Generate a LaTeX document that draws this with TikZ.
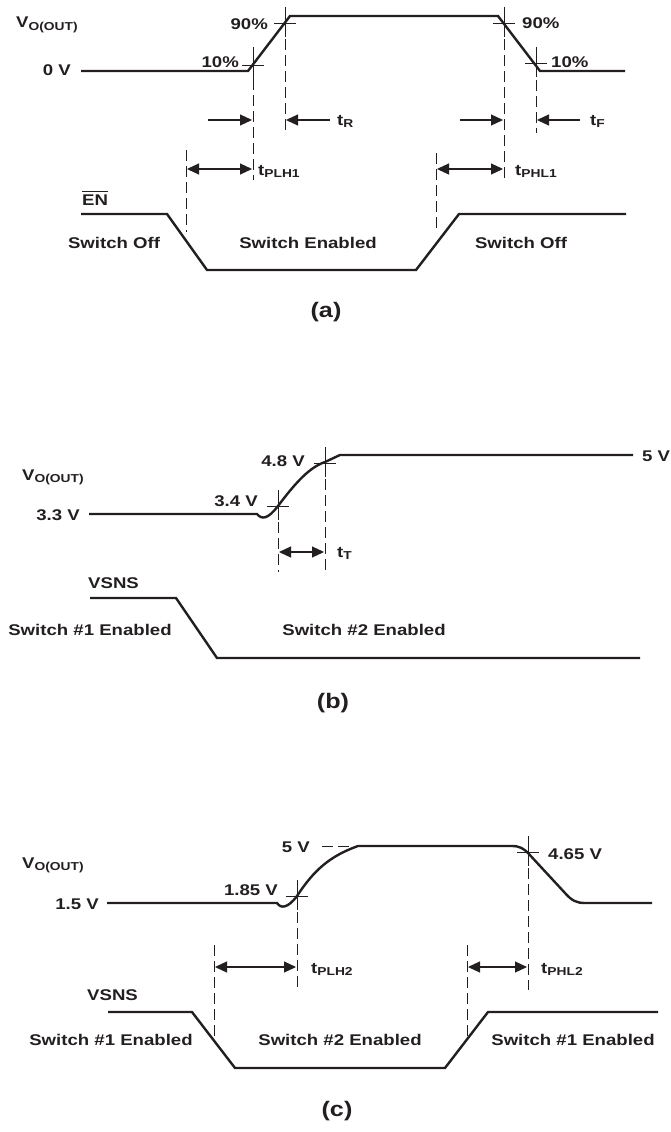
\documentclass[tikz,border=0pt]{standalone}
\usepackage{fontspec}
\setmainfont{Liberation Sans}[FakeStretch=1.2]
\usetikzlibrary{arrows.meta}
\definecolor{ink}{RGB}{35,31,32}
\newcommand\lsub[1]{\raisebox{-0.35ex}{\fontsize{11.5}{13}\selectfont #1}}
\begin{document}
\begin{tikzpicture}[x=1pt,y=-1pt,color=ink,
  sig/.style={line width=2.4pt,line join=miter},
  guide/.style={line width=1pt,dash pattern=on 11pt off 5pt},
  tick/.style={line width=0.9pt},
  dimarrow/.style={line width=1.2pt,-{Triangle[length=12pt,width=11pt]}},
  ddimarrow/.style={line width=1.2pt,{Triangle[length=12pt,width=11pt]}-{Triangle[length=12pt,width=11pt]}},
  lbl/.style={inner sep=0pt,font=\fontsize{15.5}{18}\selectfont\bfseries},
  figcap/.style={inner sep=0pt,font=\fontsize{21}{24}\selectfont\bfseries},
  crosshair/.pic={\draw[tick] (-11,0) -- (11,0); \draw[tick] (0,-16) -- (0,14);}]
\useasboundingbox (0,0) rectangle (670,1132);

% ================= (a) =================
\coordinate (a0) at (81,71);  \coordinate (a1) at (248,71);
\coordinate (a2) at (290,16); \coordinate (a3) at (498,16);
\coordinate (a4) at (540,71); \coordinate (a5) at (625,71);
\draw[sig] (a0) -- (a1) -- (a2) -- (a3) -- (a4) -- (a5);

\pic at (253,65) {crosshair};
\pic at (285,23) {crosshair};
\pic at (504,23) {crosshair};
\pic at (536,63) {crosshair};

\coordinate (ga1t) at (186,150); \coordinate (ga1b) at (186,232);
\coordinate (ga2t) at (253,47);  \coordinate (ga2b) at (253,180);
\coordinate (ga3t) at (285,7);   \coordinate (ga3b) at (285,130);
\coordinate (ga4t) at (436,153); \coordinate (ga4b) at (436,232);
\coordinate (ga5t) at (504,7);   \coordinate (ga5b) at (504,180);
\coordinate (ga6t) at (536,48);  \coordinate (ga6b) at (536,133);
\foreach \g in {ga1,ga2,ga3,ga4,ga5,ga6} \draw[guide] (\g t) -- (\g b);

\coordinate (trA) at (208,120); \coordinate (trB) at (252,120);
\coordinate (trC) at (330,120); \coordinate (trD) at (286,120);
\coordinate (tfA) at (460,120); \coordinate (tfB) at (503,120);
\coordinate (tfC) at (580,120); \coordinate (tfD) at (537,120);
\draw[dimarrow] (trA) -- (trB);
\draw[dimarrow] (trC) -- (trD);
\draw[dimarrow] (tfA) -- (tfB);
\draw[dimarrow] (tfC) -- (tfD);
\coordinate (p1A) at (187,169); \coordinate (p1B) at (252,169);
\coordinate (h1A) at (437,169); \coordinate (h1B) at (503,169);
\draw[ddimarrow] (p1A) -- (p1B);
\draw[ddimarrow] (h1A) -- (h1B);

\node[lbl,anchor=base west] (voa) at (16,28) {V\lsub{O(OUT)}};
\node[lbl,anchor=base east] (zv) at (71,76) {0 V};
\node[lbl,anchor=base east] (n90l) at (268,30) {90\%};
\node[lbl,anchor=base east] (n10l) at (239,67) {10\%};
\node[lbl,anchor=base west] (n90r) at (522,29) {90\%};
\node[lbl,anchor=base west] (n10r) at (551,67) {10\%};
\node[lbl,anchor=base west] (ntr) at (337,125) {t\lsub{R}};
\node[lbl,anchor=base west] (ntf) at (590,125) {t\lsub{F}};
\node[lbl,anchor=base west] (ntplh1) at (258,175) {t\lsub{PLH1}};
\node[lbl,anchor=base west] (ntphl1) at (515,175) {t\lsub{PHL1}};
\node[lbl,anchor=base west] (en) at (82,205) {EN};
\draw[line width=1.2pt] ([yshift=2.5pt]en.north west) -- ([yshift=2.5pt]en.north east);

\coordinate (e0) at (81,214);  \coordinate (e1) at (167,214);
\coordinate (e2) at (207,270); \coordinate (e3) at (416,270);
\coordinate (e4) at (459,214); \coordinate (e5) at (626,214);
\draw[sig] (e0) -- (e1) -- (e2) -- (e3) -- (e4) -- (e5);

\node[lbl] (soffa) at (114,243) {Switch Off};
\node[lbl] (sena) at (308,243) {Switch Enabled};
\node[lbl] (soffb) at (521,243) {Switch Off};
\node[figcap] (capa) at (326,312) {(a)};

% ================= (b) =================
\coordinate (b0) at (89,514);  \coordinate (b1) at (257,514);
\coordinate (b2) at (278,506); \coordinate (b3) at (325,462);
\coordinate (b4) at (340,455); \coordinate (b5) at (633,455);
\draw[sig] (b0) -- (b1) .. controls (262,520) and (268,519) .. (b2)
  .. controls (296,482) and (310,467) .. (b3) -- (b4) -- (b5);
\pic at (278,506) {crosshair};
\pic at (325,463) {crosshair};
\coordinate (gb1t) at (278,490); \coordinate (gb1b) at (278,572);
\coordinate (gb2t) at (325,447); \coordinate (gb2b) at (325,572);
\foreach \g in {gb1,gb2} \draw[guide] (\g t) -- (\g b);
\coordinate (ttA) at (279,552); \coordinate (ttB) at (324,552);
\draw[ddimarrow] (ttA) -- (ttB);

\node[lbl,anchor=base west] (vob) at (22,480) {V\lsub{O(OUT)}};
\node[lbl,anchor=base east] (v33) at (80,520) {3.3 V};
\node[lbl,anchor=base east] (v34) at (258,506) {3.4 V};
\node[lbl,anchor=base east] (v48) at (305,466) {4.8 V};
\node[lbl,anchor=base west] (v5b) at (642,461) {5 V};
\node[lbl,anchor=base west] (ntt) at (337,557) {t\lsub{T}};
\node[lbl,anchor=base west] (vsnsb) at (88,588) {VSNS};

\coordinate (s0) at (90,598);  \coordinate (s1) at (176,598);
\coordinate (s2) at (217,658); \coordinate (s3) at (640,658);
\draw[sig] (s0) -- (s1) -- (s2) -- (s3);
\node[lbl] (s1b) at (90,630) {Switch \#1 Enabled};
\node[lbl] (s2b) at (364,630) {Switch \#2 Enabled};
\node[figcap] (capb) at (333,703) {(b)};

% ================= (c) =================
\coordinate (c0) at (107,903); \coordinate (c1) at (277,903);
\coordinate (c2) at (297,896); \coordinate (c3) at (358,846);
\coordinate (c4) at (512,846); \coordinate (c5) at (528,853);
\coordinate (c6) at (565,893); \coordinate (c7) at (585,903);
\coordinate (c8) at (652,903);
\draw[sig] (c0) -- (c1) .. controls (281,909) and (288,908) .. (c2)
  .. controls (314,870) and (330,856) .. (c3) -- (c4)
  .. controls (520,846) and (524,849) .. (c5) -- (c6)
  .. controls (572,901) and (577,903) .. (c7) -- (c8);
\coordinate (d5a) at (322,846); \coordinate (d5b) at (356,846);
\draw[guide] (d5a) -- (d5b);
\pic at (297,896) {crosshair};
\pic at (528,852) {crosshair};
\coordinate (gc1t) at (297,880); \coordinate (gc1b) at (297,990);
\coordinate (gc2t) at (528,836); \coordinate (gc2b) at (528,990);
\coordinate (gc3t) at (214,945); \coordinate (gc3b) at (214,1037);
\coordinate (gc4t) at (467,945); \coordinate (gc4b) at (467,1037);
\foreach \g in {gc1,gc2,gc3,gc4} \draw[guide] (\g t) -- (\g b);
\coordinate (p2A) at (215,967); \coordinate (p2B) at (296,967);
\coordinate (h2A) at (468,967); \coordinate (h2B) at (527,967);
\draw[ddimarrow] (p2A) -- (p2B);
\draw[ddimarrow] (h2A) -- (h2B);

\node[lbl,anchor=base west] (voc) at (22,868) {V\lsub{O(OUT)}};
\node[lbl,anchor=base east] (v15) at (99,909) {1.5 V};
\node[lbl,anchor=base east] (v185) at (278,895) {1.85 V};
\node[lbl,anchor=base east] (v5c) at (310,852) {5 V};
\node[lbl,anchor=base west] (v465) at (548,859) {4.65 V};
\node[lbl,anchor=base west] (ntplh2) at (311,973) {t\lsub{PLH2}};
\node[lbl,anchor=base west] (ntphl2) at (541,973) {t\lsub{PHL2}};
\node[lbl,anchor=base west] (vsnsc) at (87,1000) {VSNS};

\coordinate (u0) at (108,1012); \coordinate (u1) at (192,1012);
\coordinate (u2) at (235,1068); \coordinate (u3) at (445,1068);
\coordinate (u4) at (488,1012); \coordinate (u5) at (658,1012);
\draw[sig] (u0) -- (u1) -- (u2) -- (u3) -- (u4) -- (u5);
\node[lbl] (s1c) at (111,1040) {Switch \#1 Enabled};
\node[lbl] (s2c) at (340,1040) {Switch \#2 Enabled};
\node[lbl] (s3c) at (573,1040) {Switch \#1 Enabled};
\node[figcap] (capc) at (337,1111) {(c)};
\end{tikzpicture}
\end{document}
